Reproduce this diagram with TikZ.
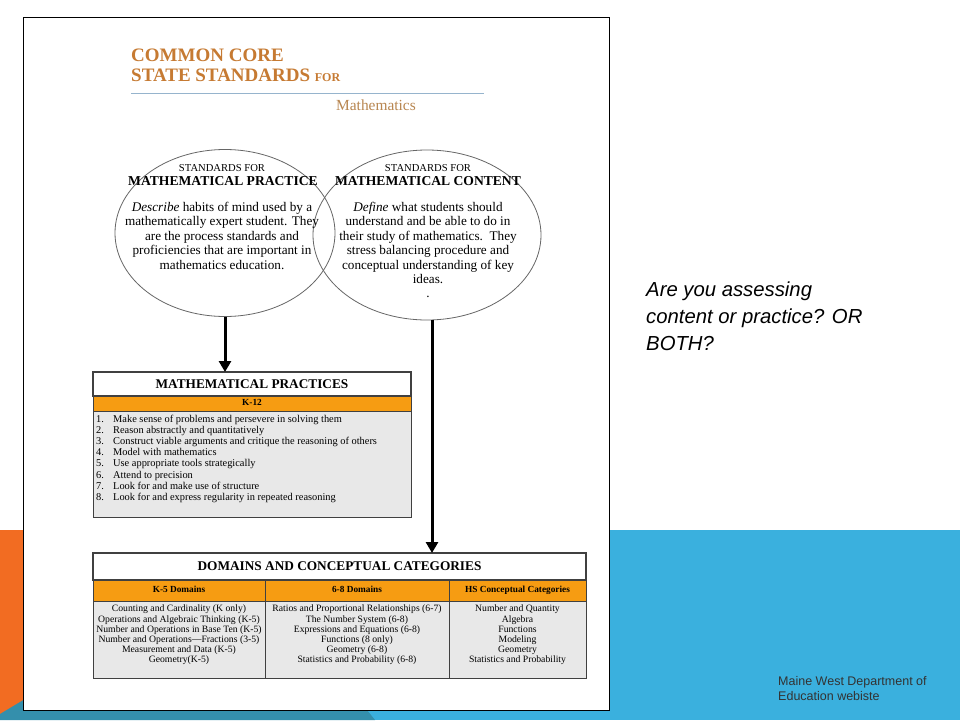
\documentclass[tikz,border=0pt]{standalone}
\usepackage{fontspec}
\setmainfont{Liberation Serif}
\newfontfamily\slidefont{Liberation Sans}
\usetikzlibrary{arrows.meta,positioning,shapes.geometric}

\definecolor{titletan}{RGB}{198,122,50}
\definecolor{mathtan}{RGB}{184,134,80}
\definecolor{rulecol}{RGB}{150,180,205}
\definecolor{tabor}{RGB}{246,156,18}
\definecolor{tabgray}{RGB}{232,232,232}
\definecolor{slideor}{RGB}{242,108,34}
\definecolor{slideblue}{RGB}{58,176,222}
\definecolor{slideteal}{RGB}{52,143,172}

\begin{document}
\begin{tikzpicture}[x=1pt, y=-1pt,
  circ/.style={draw=black!60, ellipse, line width=0.8pt, inner sep=0pt},
  hdr/.style={draw=black!75, line width=1.1pt, fill=white, anchor=north west,
    inner sep=0pt, outer sep=0pt, font=\bfseries\fontsize{13.3}{15}\selectfont},
  band/.style={draw=black!75, line width=1pt, fill=tabor, inner sep=0pt,
    outer sep=0pt, text height=6.5pt, text depth=2pt,
    font=\bfseries\fontsize{9.3}{10}\selectfont},
  cell/.style={draw=black!75, line width=1pt, fill=tabgray, inner sep=0pt,
    outer sep=0pt},
  bodytxt/.style={align=center, anchor=north, inner sep=0pt,
    font=\fontsize{9.7}{10.2}\selectfont},
  circtxt/.style={align=center, anchor=north, inner sep=0pt,
    font=\fontsize{13.2}{14.4}\selectfont},
  flow/.style={line width=3pt, -{Triangle[length=11pt,width=12pt]}},
]
\useasboundingbox (0,0) rectangle (960,720);
% slide background
\fill[slideor] (0,530) rectangle (300,720);
\fill[slideblue] (300,530) rectangle (960,720);
\fill[slideteal] (0,720) -- (0,714) -- (40,690) -- (351,690) -- (375,720) -- cycle;

% the page
\node[draw, line width=1.4pt, fill=white, anchor=north west, inner sep=0pt,
  minimum width=586pt, minimum height=693pt] (page) at (23,17) {};

\node[anchor=base west, inner sep=0pt, text=titletan,
  font=\bfseries\fontsize{19}{20}\selectfont] (ccss) at (131,61) {COMMON CORE};
\node[anchor=base west, inner sep=0pt, text=titletan,
  font=\bfseries\fontsize{19}{20}\selectfont] (ccss2) at (131,81)
  {STATE STANDARDS {\fontsize{12}{12}\selectfont FOR}};
\draw[rulecol, line width=1pt] (131,93) -- (484,93);
\node[anchor=base west, inner sep=0pt, text=mathtan,
  font=\fontsize{15.4}{16}\selectfont] (mathlbl) at (336,110) {Mathematics};

% the two circles
\node[circ, minimum width=220pt, minimum height=167pt] (practice) at (225,233) {};
\node[circ, minimum width=228pt, minimum height=170pt] (content) at (427,235) {};

\node[anchor=base, inner sep=0pt, font=\fontsize{10.6}{11}\selectfont]
  (prsmall) at (222,171) {STANDARDS FOR};
\node[anchor=base, inner sep=0pt, font=\bfseries\fontsize{13.6}{14}\selectfont]
  (prbig) at (223,185) {MATHEMATICAL PRACTICE};
\node[circtxt] (prtxt) at (222,202)
  {\textit{Describe} habits of mind used by a\\mathematically expert student. They\\
   are the process standards and\\proficiencies that are important in\\
   mathematics education.};

\node[anchor=base, inner sep=0pt, font=\fontsize{10.6}{11}\selectfont]
  (cosmall) at (428,171) {STANDARDS FOR};
\node[anchor=base, inner sep=0pt, font=\bfseries\fontsize{13.6}{14}\selectfont]
  (cobig) at (428,185) {MATHEMATICAL CONTENT};
\node[circtxt] (cotxt) at (428,202)
  {\textit{Define} what students should\\understand and be able to do in\\
   their study of mathematics.\ \ They\\stress balancing procedure and\\
   conceptual understanding of key\\ideas.\\.};

% mathematical practices table
\node[hdr, minimum width=318pt, minimum height=24pt] (pracs) at (93,372)
  {MATHEMATICAL PRACTICES};
\node[band, minimum width=318pt, minimum height=15pt, below=0pt of pracs] (k12) {K-12};
\node[cell, minimum width=318pt, minimum height=106pt, below=0pt of k12] (praclist) {};
\node[anchor=north west, inner sep=0pt, font=\fontsize{10.4}{11.2}\selectfont]
  (items) at ([xshift=3pt,yshift=-3pt]praclist.north west)
  {\begin{tabular}{@{}p{17pt}@{}l@{}}
   1. & Make sense of problems and persevere in solving them\\
   2. & Reason abstractly and quantitatively\\
   3. & Construct viable arguments and critique the reasoning of others\\
   4. & Model with mathematics\\
   5. & Use appropriate tools strategically\\
   6. & Attend to precision\\
   7. & Look for and make use of structure\\
   8. & Look for and express regularity in repeated reasoning
   \end{tabular}};

% domains table
\node[hdr, minimum width=493pt, minimum height=27pt] (domains) at (93,553)
  {DOMAINS AND CONCEPTUAL CATEGORIES};
\node[band, anchor=north west, minimum width=172pt, minimum height=21pt]
  (k5hd) at (domains.south west) {K-5 Domains};
\node[band, minimum width=184pt, minimum height=21pt, right=0pt of k5hd] (mshd) {6-8 Domains};
\node[band, minimum width=137pt, minimum height=21pt, right=0pt of mshd] (hshd)
  {HS Conceptual Categories};
\node[cell, minimum width=172pt, minimum height=77pt, below=0pt of k5hd] (k5list) {};
\node[cell, minimum width=184pt, minimum height=77pt, below=0pt of mshd] (mslist) {};
\node[cell, minimum width=137pt, minimum height=77pt, below=0pt of hshd] (hslist) {};

\node[bodytxt] (k5txt) at ([yshift=-4pt]k5list.north)
  {Counting and Cardinality (K only)\\Operations and Algebraic Thinking (K-5)\\
   Number and Operations in Base Ten (K-5)\\Number and Operations---Fractions (3-5)\\
   Measurement and Data (K-5)\\Geometry(K-5)};
\node[bodytxt] (mstxt) at ([yshift=-4pt]mslist.north)
  {Ratios and Proportional Relationships (6-7)\\The Number System (6-8)\\
   Expressions and Equations (6-8)\\Functions (8 only)\\Geometry (6-8)\\
   Statistics and Probability (6-8)};
\node[bodytxt] (hstxt) at ([yshift=-4pt]hslist.north)
  {Number and Quantity\\Algebra\\Functions\\Modeling\\Geometry\\
   Statistics and Probability};

% arrows
\draw[flow] (practice.south) -- (practice.south |- pracs.north);
\draw[flow] ([xshift=5pt]content.south) -- ([xshift=5pt]content.south |- domains.north);

% slide text
\node[anchor=north west, align=left, inner sep=0pt,
  font=\slidefont\itshape\fontsize{20.3}{27}\selectfont] (question) at (646,282)
  {Are you assessing\\content or practice? OR\\BOTH?};
\node[anchor=north west, align=left, inner sep=0pt, text=black!80,
  font=\slidefont\fontsize{12.5}{15.5}\selectfont] (source) at (778,676)
  {Maine West Department of\\Education webiste};
\end{tikzpicture}
\end{document}
